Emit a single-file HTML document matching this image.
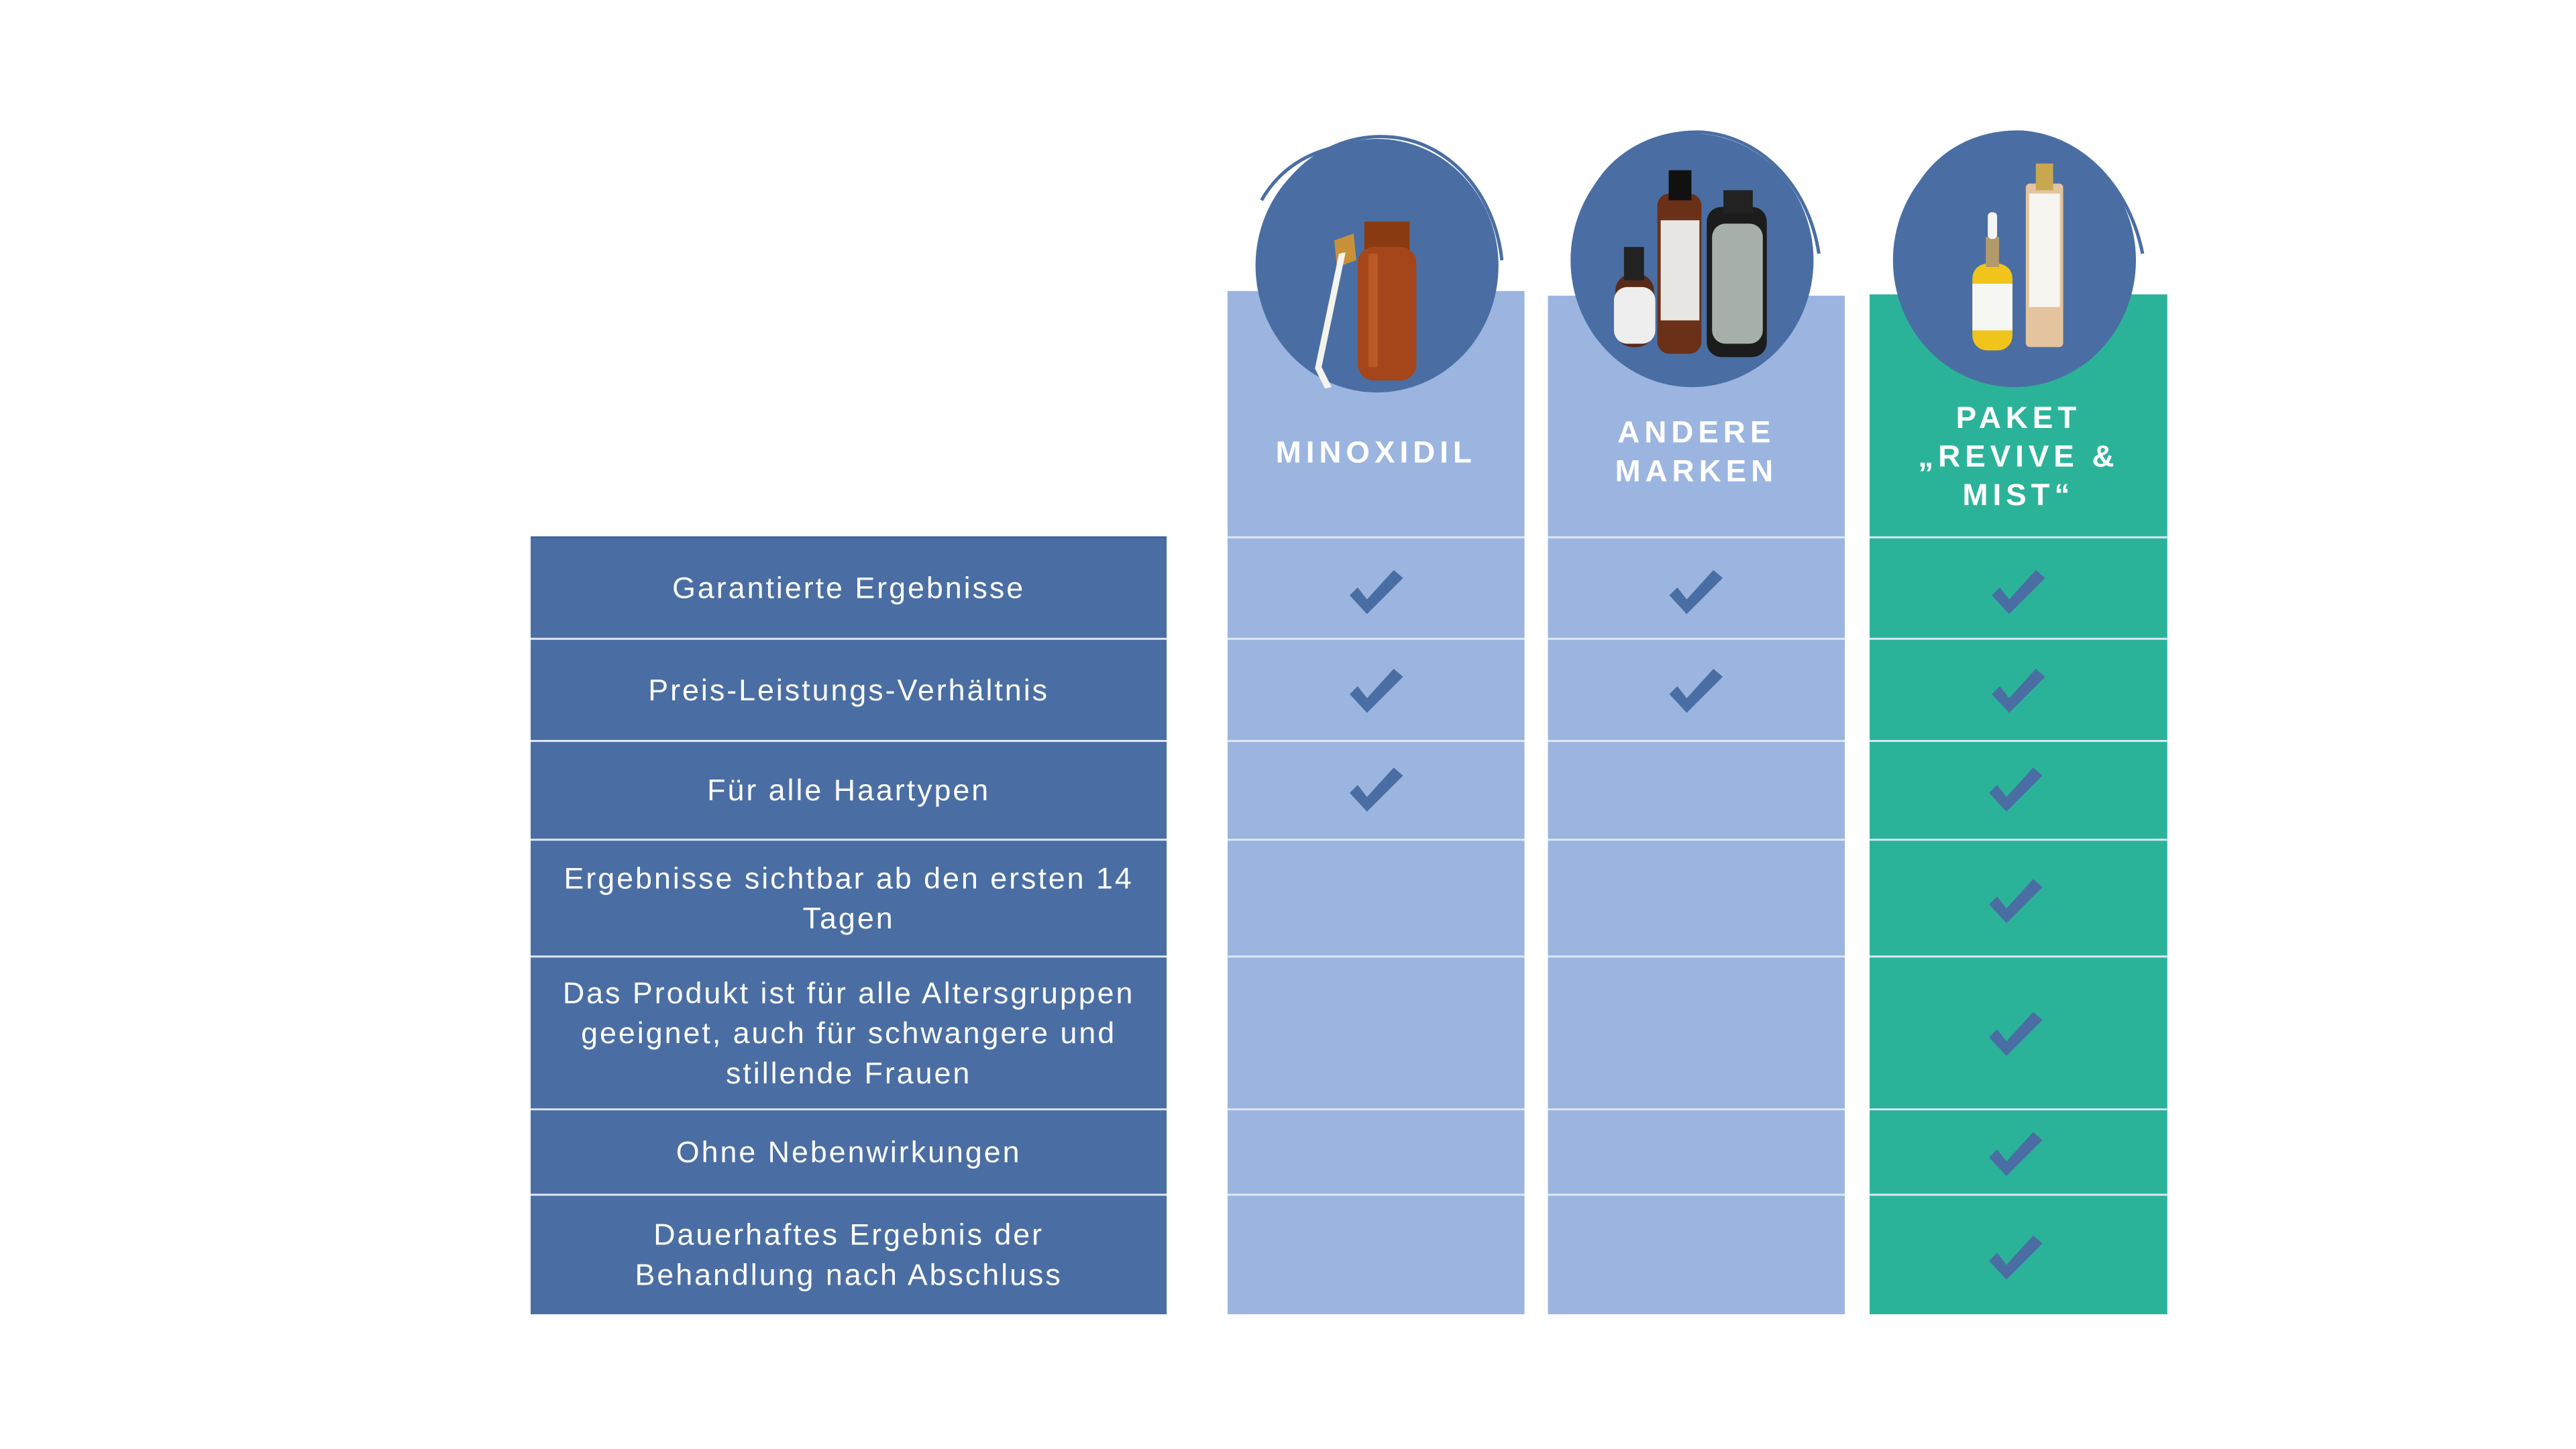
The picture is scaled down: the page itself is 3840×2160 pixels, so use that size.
<!DOCTYPE html>
<html><head><meta charset="utf-8"><style>
html,body{margin:0;padding:0;background:#fff;}
#w{position:relative;width:3840px;height:2160px;overflow:hidden;background:#fff;}
#c{position:absolute;left:0;top:0;width:3840px;height:2160px;transform:scale(0.995);transform-origin:0 0;font-family:"Liberation Sans",sans-serif;}
.lbl{position:absolute;left:795px;width:953px;display:flex;align-items:center;justify-content:center;text-align:center;color:#fff;font-size:45px;line-height:60px;letter-spacing:3px;}
.hd{position:absolute;color:#fff;font-weight:bold;font-size:46px;line-height:58px;letter-spacing:7px;text-align:center;}
</style></head><body><div id="w"><div id="c">
<svg width="3840" height="2160" style="position:absolute;left:0;top:0">
<rect x="795" y="805" width="953" height="1164" fill="#4a6ea3"/>
<rect x="1839" y="436" width="445" height="1533" fill="#9bb5e0"/>
<rect x="2319" y="443" width="445" height="1526" fill="#9bb5e0"/>
<rect x="2801" y="441" width="446" height="1528" fill="#2bb39a"/>
<g stroke="#dfe7f4" stroke-width="3">
<line x1="795" x2="1748" y1="805" y2="805" stroke="#3f6198"/>
<line x1="795" x2="3247" y1="957" y2="957"/>
<line x1="795" x2="3247" y1="1110" y2="1110"/>
<line x1="795" x2="3247" y1="1258" y2="1258"/>
<line x1="795" x2="3247" y1="1433" y2="1433"/>
<line x1="795" x2="3247" y1="1662" y2="1662"/>
<line x1="795" x2="3247" y1="1790" y2="1790"/>
<line x1="1839" x2="3247" y1="805" y2="805"/>
</g>
<rect x="1748" y="790" width="91" height="1190" fill="#fff"/>
<rect x="2284" y="420" width="35" height="1560" fill="#fff"/>
<rect x="2764" y="420" width="37" height="1560" fill="#fff"/>
<g fill="#4a6ea3">
<ellipse cx="2063" cy="398" rx="182" ry="190"/>
<ellipse cx="2535" cy="390" rx="182" ry="190"/>
<ellipse cx="3018" cy="390" rx="182" ry="190"/>
</g>
<g fill="none" stroke="#4a6ea3" stroke-width="5">
<path d="M1900 330 C1930 240 2010 200 2080 205 C2170 210 2240 290 2250 390"/>
<path d="M1890 300 C1930 230 2000 215 2060 212"/>
<path d="M2372 320 C2400 230 2480 195 2550 198 C2640 205 2710 280 2725 380"/>
<path d="M2855 320 C2885 230 2960 195 3030 198 C3120 205 3190 280 3210 380"/>
</g>
<g>
<rect x="2044" y="332" width="68" height="42" fill="#8a3a10"/>
<rect x="2034" y="370" width="88" height="200" rx="24" fill="#a4461a"/>
<rect x="2050" y="380" width="14" height="170" fill="#c8682e" opacity=".6"/>
<polygon points="1999,360 2028,350 2032,390 2003,400" fill="#c8913a"/>
<polygon points="2006,380 2016,378 1980,550 1995,580 1985,582 1970,552" fill="#f4f4ef"/>
</g>
<g>
<rect x="2420" y="410" width="58" height="110" rx="26" fill="#5a2a18"/>
<rect x="2418" y="430" width="62" height="85" rx="20" fill="#eeeeee"/>
<rect x="2433" y="370" width="30" height="50" fill="#222"/>
<rect x="2483" y="290" width="66" height="240" rx="18" fill="#6a3018"/>
<rect x="2488" y="330" width="58" height="150" fill="#e8e6e2"/>
<rect x="2500" y="255" width="34" height="45" fill="#111"/>
<rect x="2557" y="310" width="90" height="225" rx="22" fill="#1c1c1c"/>
<rect x="2565" y="335" width="76" height="180" rx="20" fill="#a6b0a8"/>
<rect x="2582" y="285" width="44" height="35" fill="#222"/>
</g>
<g>
<rect x="2955" y="395" width="60" height="130" rx="22" fill="#f0c41a"/>
<rect x="2955" y="425" width="60" height="70" fill="#f6f6f2"/>
<rect x="2975" y="355" width="20" height="45" fill="#b29a6a"/>
<rect x="2978" y="318" width="14" height="40" rx="6" fill="#f4f4f4"/>
<rect x="3035" y="275" width="56" height="245" rx="6" fill="#e3c49e"/>
<rect x="3040" y="290" width="46" height="170" fill="#f7f5f0"/>
<rect x="3050" y="245" width="26" height="40" fill="#c7a850"/>
</g>
<defs><path id="ck" d="M-40 4 L-28 -8 L-14 10 L26 -34 L40 -22 L-14 32 Z" fill="#4a6ea3"/></defs>
<use href="#ck" x="2062" y="888"/><use href="#ck" x="2062" y="1036"/><use href="#ck" x="2062" y="1184"/>
<use href="#ck" x="2541" y="888"/><use href="#ck" x="2541" y="1036"/>
<use href="#ck" x="3024" y="888"/><use href="#ck" x="3024" y="1036"/><use href="#ck" x="3020" y="1184"/><use href="#ck" x="3020" y="1351"/><use href="#ck" x="3020" y="1550"/><use href="#ck" x="3020" y="1730"/><use href="#ck" x="3020" y="1885"/>
</svg>
<div class="hd" style="left:1839px;width:445px;top:648px">MINOXIDIL</div>
<div class="hd" style="left:2319px;width:445px;top:618px">ANDERE<br>MARKEN</div>
<div class="hd" style="left:2801px;width:446px;top:596px">PAKET<br>„REVIVE &amp;<br>MIST“</div>
<div class="lbl" style="top:805px;height:152px">Garantierte Ergebnisse</div>
<div class="lbl" style="top:957px;height:153px">Preis-Leistungs-Verhältnis</div>
<div class="lbl" style="top:1110px;height:148px">Für alle Haartypen</div>
<div class="lbl" style="top:1258px;height:175px">Ergebnisse sichtbar ab den ersten 14<br>Tagen</div>
<div class="lbl" style="top:1433px;height:229px">Das Produkt ist für alle Altersgruppen<br>geeignet, auch für schwangere und<br>stillende Frauen</div>
<div class="lbl" style="top:1662px;height:128px">Ohne Nebenwirkungen</div>
<div class="lbl" style="top:1790px;height:179px">Dauerhaftes Ergebnis der<br>Behandlung nach Abschluss</div>
</div></div></body></html>
